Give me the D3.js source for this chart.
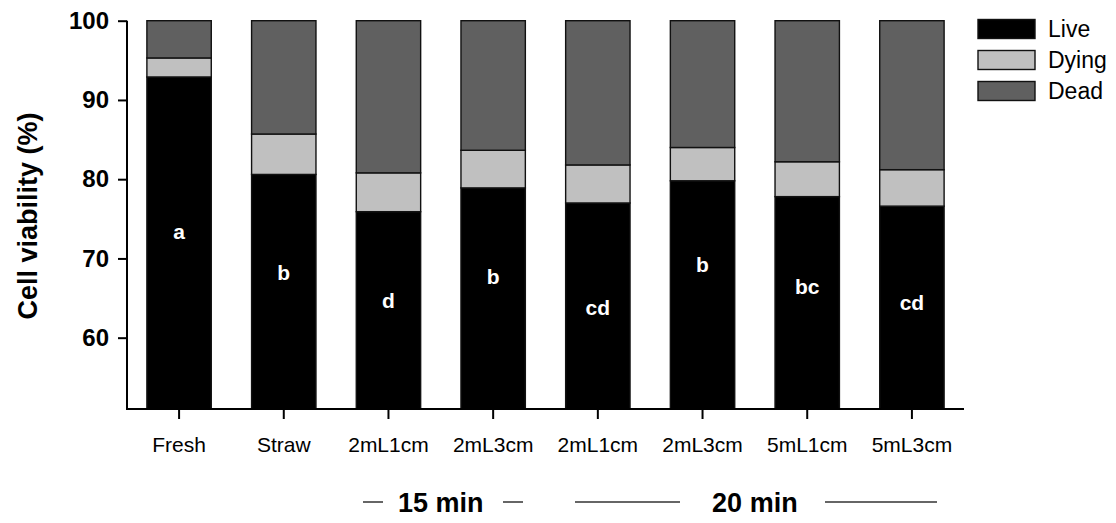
<!DOCTYPE html>
<html><head><meta charset="utf-8">
<script src="https://cdn.jsdelivr.net/npm/d3@7/dist/d3.min.js"></script>
<style>body{margin:0;background:#fff}svg{display:block;font-family:"Liberation Sans",Arial,sans-serif}</style>
</head><body>
<svg id="c" width="1116" height="523"></svg>
<script>
const categories = ["Fresh","Straw","2mL1cm","2mL3cm","2mL1cm","2mL3cm","5mL1cm","5mL3cm"];
const live  = [92.9, 80.6, 75.9, 78.9, 77.0, 79.8, 77.8, 76.6];
const dying = [2.4, 5.1, 4.9, 4.75, 4.8, 4.2, 4.4, 4.6];
const dead  = [4.7, 14.3, 19.2, 16.35, 18.2, 16.0, 17.8, 18.8];
const letters = ["a","b","d","b","cd","b","bc","cd"];
const letterY = [72.45, 67.3, 63.75, 66.8, 62.9, 68.3, 65.5, 63.5];
const yTicks = [60, 70, 80, 90, 100];
const seriesNames = ["Live","Dying","Dead"];
const seriesColors = ["#000000","#c0c0c0","#606060"];
const groups = [{label:"15 min", from:2, to:3}, {label:"20 min", from:4, to:7}];

const svg = d3.select("#c");
const x = d3.scaleBand().domain(d3.range(categories.length)).range([127, 964]).paddingInner(0.385).paddingOuter(0.19);
const y = d3.scaleLinear().domain([51, 100]).range([409, 20.7]);

const rows = categories.map((c,i)=>({i, Live:live[i], Dying:dying[i], Dead:dead[i]}));
const stack = d3.stack().keys(seriesNames)(rows);
const color = d3.scaleOrdinal().domain(seriesNames).range(seriesColors);

// bars
stack.forEach(layer=>{
  svg.append("g").selectAll("rect").data(layer).join("rect")
    .attr("x", d=>x(d.data.i))
    .attr("width", x.bandwidth())
    .attr("y", d=>y(d[1]))
    .attr("height", d=>Math.max(0, y(Math.max(d[0],51)) - y(d[1])))
    .attr("fill", color(layer.key))
    .attr("stroke", "#111").attr("stroke-width", 1.4);
});

// letters
svg.append("g").selectAll("text").data(letters).join("text")
  .attr("x", (d,i)=>x(i)+x.bandwidth()/2)
  .attr("y", (d,i)=>y(letterY[i]))
  .attr("text-anchor","middle").attr("fill","#fff")
  .attr("font-weight","bold").attr("font-size",21).text(d=>d);

// y axis
const ya = svg.append("g").attr("transform","translate(127,0)")
  .call(d3.axisLeft(y).tickValues(yTicks).tickSize(9).tickSizeOuter(0).tickPadding(9));
ya.select(".domain").attr("stroke","#000").attr("stroke-width",2).attr("d","M0,20.7V409");
ya.selectAll(".tick line").attr("stroke","#000").attr("stroke-width",2);
ya.selectAll(".tick text").attr("font-size",24).attr("font-weight","bold").attr("fill","#000")
  .attr("font-family","'Liberation Sans',Arial,sans-serif");

// x axis
const xa = svg.append("g").attr("transform","translate(0,409)")
  .call(d3.axisBottom(x).tickSize(10).tickSizeOuter(0).tickFormat(i=>categories[i]).tickPadding(18));
xa.select(".domain").attr("stroke","#000").attr("stroke-width",2).attr("d","M126,0H964");
xa.selectAll(".tick line").attr("stroke","#000").attr("stroke-width",2);
xa.selectAll(".tick text").attr("font-size",21).attr("fill","#000")
  .attr("font-family","'Liberation Sans',Arial,sans-serif");

// y title
svg.append("text").attr("transform","translate(37,216) rotate(-90)")
  .attr("text-anchor","middle").attr("font-weight","bold").attr("font-size",27).text("Cell viability (%)");

// group labels
const gLine = [[363,383,503,523],[575,680,825,937]];
groups.forEach((g,k)=>{
  const cx = (x(g.from) + x(g.to) + x.bandwidth())/2;
  svg.append("text").attr("x",cx).attr("y",512).attr("text-anchor","middle")
    .attr("font-weight","bold").attr("font-size",27).text(g.label);
  const L = gLine[k];
  [[L[0],L[1]],[L[2],L[3]]].forEach(s=>{
    svg.append("line").attr("x1",s[0]).attr("x2",s[1]).attr("y1",502).attr("y2",502)
      .attr("stroke","#333").attr("stroke-width",1.5);
  });
});

// legend
const lg = svg.append("g");
seriesNames.forEach((n,i)=>{
  lg.append("rect").attr("x",978).attr("y",19.5+i*31).attr("width",57).attr("height",19)
    .attr("fill",seriesColors[i]).attr("stroke","#111").attr("stroke-width",1.4);
  lg.append("text").attr("x",1048).attr("y",37+i*31).attr("font-size",23).text(n);
});
</script>
</body></html>
